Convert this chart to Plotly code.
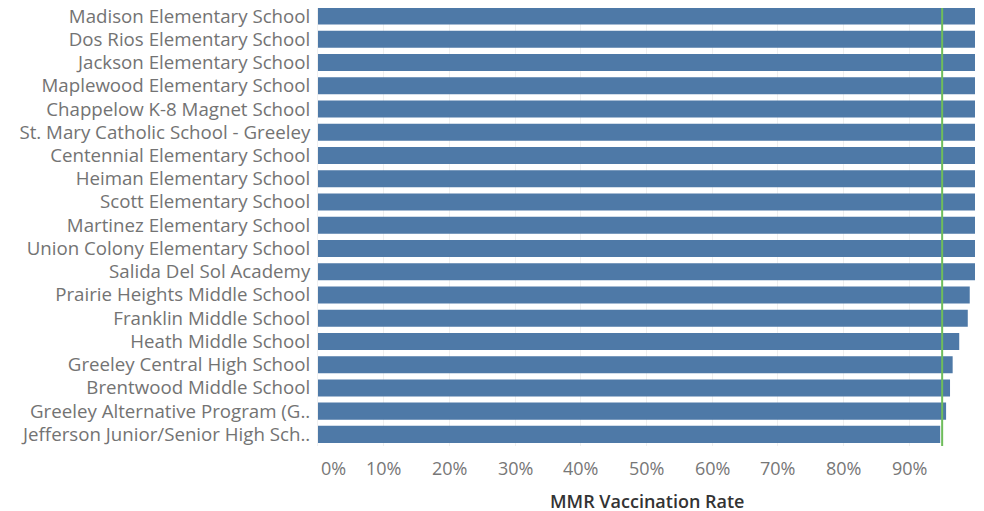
import plotly.graph_objects as go

schools = [
    "Madison Elementary School",
    "Dos Rios Elementary School",
    "Jackson Elementary School",
    "Maplewood Elementary School",
    "Chappelow K-8 Magnet School",
    "St. Mary Catholic School - Greeley",
    "Centennial Elementary School",
    "Heiman Elementary School",
    "Scott Elementary School",
    "Martinez Elementary School",
    "Union Colony Elementary School",
    "Salida Del Sol Academy",
    "Prairie Heights Middle School",
    "Franklin Middle School",
    "Heath Middle School",
    "Greeley Central High School",
    "Brentwood Middle School",
    "Greeley Alternative Program (G..",
    "Jefferson Junior/Senior High Sch..",
]
mmr_rate = [1.0, 1.0, 1.0, 1.0, 1.0, 1.0, 1.0, 1.0, 1.0, 1.0, 1.0, 1.0,
            0.992, 0.989, 0.976, 0.966, 0.962, 0.956, 0.947]
target_rate = 0.95
x_tick_vals = [0, 0.1, 0.2, 0.3, 0.4, 0.5, 0.6, 0.7, 0.8, 0.9]
x_tick_text = ["0%", "10%", "20%", "30%", "40%", "50%", "60%", "70%", "80%", "90%"]
grid_vals = [0, 0.1, 0.2, 0.3, 0.4, 0.5, 0.6, 0.7, 0.8, 0.9, 1.0]
axis_title = "MMR Vaccination Rate"

FONT = "Open Sans"
# the page body has an 8px default margin; figure is sized/offset to compensate
W, H = 976, 503
L, R, T, B = 309.5, 9, 0, 65.4
n = len(schools)
y_top = (n - 0.5) - 3.6 / 23.2

fig = go.Figure()
fig.add_trace(go.Bar(
    x=mmr_rate, y=schools, orientation="h",
    marker=dict(color="#4e79a7", line=dict(width=0)),
    hoverinfo="x+y",
))

fig.add_shape(type="line", xref="x", yref="paper", x0=target_rate, x1=target_rate,
              y0=0, y1=1, line=dict(color="#6fbd5b", width=2), layer="above")

for v, t in zip(x_tick_vals, x_tick_text):
    fig.add_annotation(x=v, y=0, xref="x", yref="paper", text=t, showarrow=False,
                       yanchor="middle", yshift=-22, xshift=15 if v == 0 else 0,
                       font=dict(family=FONT, size=18, color="#777777"))

fig.add_annotation(x=0.5, y=0, xref="paper", yref="paper", text=axis_title,
                   showarrow=False, yanchor="middle", yshift=-55,
                   font=dict(family=FONT, size=18, color="#333333", weight=600))

fig.update_layout(
    width=W, height=H,
    margin=dict(l=L, r=R, t=T, b=B, autoexpand=False),
    plot_bgcolor="white", paper_bgcolor="white",
    showlegend=False,
    bargap=0.267,
    font=dict(family=FONT),
    xaxis=dict(
        range=[0, 1.0], tickvals=grid_vals, showticklabels=False,
        showgrid=True, gridcolor="#efefef", gridwidth=1, zeroline=False,
        showline=False, fixedrange=True,
    ),
    yaxis=dict(
        categoryorder="array", categoryarray=schools[::-1],
        autorange=False, range=[-0.5, y_top],
        automargin=False, showgrid=False, zeroline=False,
        ticks="outside", ticklen=3, tickcolor="rgba(0,0,0,0)",
        tickfont=dict(family=FONT, size=18.7, color="#737373"),
        showline=True, linecolor="#f0f0f0", linewidth=1,
    ),
)

fig.write_html("out.html")
